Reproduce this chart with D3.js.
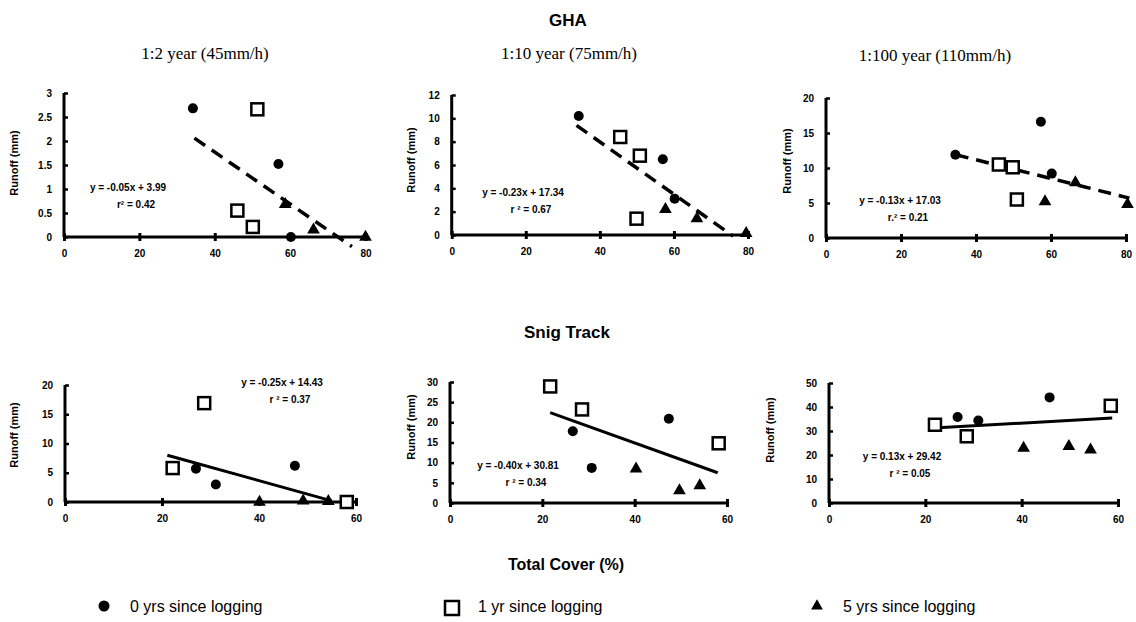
<!DOCTYPE html>
<html>
<head>
<meta charset="utf-8">
<script src="https://cdn.jsdelivr.net/npm/d3@7"></script>
<style>
  body { margin: 0; background: #fff; }
  svg { display: block; }
  .tick text { font-family: "Liberation Sans", Arial, sans-serif; font-weight: bold; font-size: 10px; }
</style>
</head>
<body>
<div id="chart"></div>
<script>
// Set up SVG
var w = 1136;
var h = 622;

var svg = d3.select('#chart')
            .append('svg')
            .attr('width', w)
            .attr('height', h);

// ---- data ----
// x = total cover (%), y = runoff (mm)
var xTicksGha = [0, 20, 40, 60, 80];
var xTicksSnig = [0, 20, 40, 60];

// GHA 1:2 year
var gha2Circles = [[34.2, 2.68], [56.9, 1.52], [60.2, 0]];
var gha2Squares = [[51.3, 2.66], [46.0, 0.55], [50.1, 0.21]];
var gha2Triangles = [[58.7, 0.68], [66.2, 0.15], [80.0, 0]];
var gha2Trend = [[34.6, 2.06], [76.4, -0.2]];
var gha2Eq = ['y = -0.05x + 3.99', 'r² = 0.42'];
var gha2YTicks = [0, 0.5, 1, 1.5, 2, 2.5, 3];

// GHA 1:10 year
var gha10Circles = [[34.3, 10.2], [57.0, 6.5], [60.2, 3.1]];
var gha10Squares = [[45.5, 8.4], [50.8, 6.8], [49.9, 1.4]];
var gha10Triangles = [[57.7, 2.2], [66.2, 1.4], [79.5, 0.15]];
var gha10Trend = [[33.7, 9.4], [76.0, -0.1]];
var gha10Eq = ['y = -0.23x + 17.34', 'r ² = 0.67'];
var gha10YTicks = [0, 2, 4, 6, 8, 10, 12];

// GHA 1:100 year
var gha100Circles = [[34.5, 11.9], [57.3, 16.6], [60.2, 9.2]];
var gha100Squares = [[46.1, 10.5], [49.8, 10.1], [50.9, 5.5]];
var gha100Triangles = [[58.4, 5.2], [66.5, 7.9], [80.4, 4.8]];
var gha100Trend = [[34.6, 11.9], [80.9, 5.7]];
var gha100Eq = ['y = -0.13x + 17.03', 'r.² = 0.21'];
var gha100YTicks = [0, 5, 10, 15, 20];

// Snig Track 1:2 year
var snig2Circles = [[27.0, 5.7], [31.1, 3.0], [47.4, 6.2]];
var snig2Squares = [[22.2, 5.8], [28.7, 16.9], [58.1, 0]];
var snig2Triangles = [[40.1, 0], [49.1, 0.2], [54.3, 0.1]];
var snig2Trend = [[21.1, 8.0], [55.0, 0.2]];
var snig2Eq = ['y = -0.25x + 14.43', 'r ² = 0.37'];
var snig2YTicks = [0, 5, 10, 15, 20];

// Snig Track 1:10 year
var snig10Circles = [[26.6, 17.8], [30.7, 8.7], [47.4, 20.9]];
var snig10Squares = [[21.7, 28.9], [28.6, 23.2], [58.2, 14.8]];
var snig10Triangles = [[40.3, 8.5], [49.7, 3.1], [54.1, 4.3]];
var snig10Trend = [[21.7, 22.4], [58.0, 7.5]];
var snig10Eq = ['y = -0.40x + 30.81', 'r ² = 0.34'];
var snig10YTicks = [0, 5, 10, 15, 20, 25, 30];

// Snig Track 1:100 year
var snig100Circles = [[26.7, 35.8], [31.0, 34.4], [45.8, 44.0]];
var snig100Squares = [[22.0, 32.6], [28.6, 27.8], [58.5, 40.5]];
var snig100Triangles = [[40.4, 22.9], [49.8, 23.6], [54.3, 22.2]];
var snig100Trend = [[21.7, 31.2], [58.8, 35.4]];
var snig100Eq = ['y = 0.13x + 29.42', 'r ² = 0.05'];
var snig100YTicks = [0, 10, 20, 30, 40, 50];

var legendLabels = ['0 yrs since logging', '1 yr since logging', '5 yrs since logging'];

// ---- layout for each panel ----
var panels = [
  {c: gha2Circles, s: gha2Squares, t: gha2Triangles, trend: gha2Trend, dash: true, eq: gha2Eq,
   yT: gha2YTicks, xT: xTicksGha, xr: [64, 365.5], yr: [237, 93], eqX: 128, eqY: 191, labX: 15, labY: 163},
  {c: gha10Circles, s: gha10Squares, t: gha10Triangles, trend: gha10Trend, dash: true, eq: gha10Eq,
   yT: gha10YTicks, xT: xTicksGha, xr: [451.7, 748], yr: [235, 95], eqX: 523, eqY: 196, labX: 412, labY: 160},
  {c: gha100Circles, s: gha100Squares, t: gha100Triangles, trend: gha100Trend, dash: true, eq: gha100Eq,
   yT: gha100YTicks, xT: xTicksGha, xr: [826, 1126], yr: [238, 98], eqX: 900, eqY: 204, labX: 788, labY: 161},
  {c: snig2Circles, s: snig2Squares, t: snig2Triangles, trend: snig2Trend, dash: false, eq: snig2Eq,
   yT: snig2YTicks, xT: xTicksSnig, xr: [65, 356], yr: [502, 385], eqX: 282, eqY: 386, labX: 15, labY: 435},
  {c: snig10Circles, s: snig10Squares, t: snig10Triangles, trend: snig10Trend, dash: false, eq: snig10Eq,
   yT: snig10YTicks, xT: xTicksSnig, xr: [450, 727], yr: [503, 382], eqX: 518, eqY: 469, labX: 412, labY: 427},
  {c: snig100Circles, s: snig100Squares, t: snig100Triangles, trend: snig100Trend, dash: false, eq: snig100Eq,
   yT: snig100YTicks, xT: xTicksSnig, xr: [829, 1118], yr: [503, 383], eqX: 902, eqY: 460, labX: 771, labY: 430}
];

var boldSans = '"Liberation Sans", Arial, sans-serif';
var serif = '"Liberation Serif", "Times New Roman", serif';

panels.forEach(function (p) {
  var x = d3.scaleLinear().domain([0, d3.max(p.xT)]).range(p.xr);
  var y = d3.scaleLinear().domain([0, d3.max(p.yT)]).range(p.yr);
  var g = svg.append('g');

  // x axis
  var gx = g.append('g')
    .attr('transform', 'translate(0,' + y(0) + ')')
    .call(d3.axisBottom(x).tickValues(p.xT).tickFormat(function (d) { return d; }).tickSize(4).tickPadding(9));
  gx.selectAll('.tick line').attr('y1', -4).attr('stroke-width', 3);
  gx.select('.domain').attr('stroke-width', 3).attr('d', 'M' + x(0) + ',0H' + x(d3.max(p.xT)));

  // y axis
  var gy = g.append('g')
    .attr('transform', 'translate(' + x(0) + ',0)')
    .call(d3.axisLeft(y).tickValues(p.yT).tickFormat(function (d) { return d; }).tickSize(4).tickPadding(8));
  gy.selectAll('.tick line').attr('x2', 4).attr('stroke-width', 2.5);
  gy.select('.domain').attr('stroke-width', 3).attr('d', 'M0,' + y(0) + 'V' + y(d3.max(p.yT)));

  // y label
  g.append('text')
    .attr('transform', 'translate(' + p.labX + ',' + p.labY + ') rotate(-90)')
    .attr('text-anchor', 'middle')
    .attr('dominant-baseline', 'middle')
    .attr('font-family', boldSans).attr('font-weight', 'bold').attr('font-size', 11)
    .text('Runoff (mm)');

  // trend line
  g.append('line')
    .attr('x1', x(p.trend[0][0])).attr('y1', y(p.trend[0][1]))
    .attr('x2', x(p.trend[1][0])).attr('y2', y(p.trend[1][1]))
    .attr('stroke', '#000')
    .attr('stroke-width', p.dash ? 3.5 : 3)
    .attr('stroke-dasharray', p.dash ? '13,8' : null);

  // equation
  g.selectAll('.eq')
    .data(p.eq)
    .enter().append('text')
    .attr('x', function (d, i) { return p.eqX + (i ? 8 : 0); })
    .attr('y', function (d, i) { return p.eqY + i * 17; })
    .attr('text-anchor', 'middle')
    .attr('font-family', boldSans).attr('font-weight', 'bold').attr('font-size', 10)
    .text(function (d) { return d; });

  // markers
  g.selectAll('.c').data(p.c).enter().append('circle')
    .attr('cx', function (d) { return x(d[0]); })
    .attr('cy', function (d) { return y(d[1]); })
    .attr('r', 5).attr('fill', '#000');

  g.selectAll('.s').data(p.s).enter().append('rect')
    .attr('x', function (d) { return x(d[0]) - 6; })
    .attr('y', function (d) { return y(d[1]) - 6; })
    .attr('width', 12).attr('height', 12)
    .attr('fill', '#fff').attr('stroke', '#000').attr('stroke-width', 2.5);

  g.selectAll('.t').data(p.t).enter().append('path')
    .attr('d', d3.symbol().type(d3.symbolTriangle).size(70))
    .attr('transform', function (d) { return 'translate(' + x(d[0]) + ',' + y(d[1]) + ')'; })
    .attr('fill', '#000');
});

// titles
svg.append('text').attr('x', 568).attr('y', 26).attr('text-anchor', 'middle')
  .attr('font-family', boldSans).attr('font-weight', 'bold').attr('font-size', 17).text('GHA');

var subTitles = ['1:2 year (45mm/h)', '1:10 year (75mm/h)', '1:100 year (110mm/h)'];
var subX = [205, 569, 935];
svg.selectAll('.sub').data(subTitles).enter().append('text')
  .attr('x', function (d, i) { return subX[i]; })
  .attr('y', function (d, i) { return i == 2 ? 61 : 59; })
  .attr('text-anchor', 'middle')
  .attr('font-family', serif).attr('font-size', 17)
  .text(function (d) { return d; });

svg.append('text').attr('x', 567).attr('y', 338).attr('text-anchor', 'middle')
  .attr('font-family', boldSans).attr('font-weight', 'bold').attr('font-size', 17).text('Snig Track');

svg.append('text').attr('x', 566).attr('y', 570).attr('text-anchor', 'middle')
  .attr('font-family', boldSans).attr('font-weight', 'bold').attr('font-size', 16).text('Total Cover (%)');

// legend
var legX = [104, 452, 817];
var leg = svg.selectAll('.leg').data(legendLabels).enter().append('g')
  .attr('transform', function (d, i) { return 'translate(' + legX[i] + ',606)'; });
leg.append('text')
  .attr('x', 26).attr('y', 0).attr('dy', '0.35em')
  .attr('font-family', '"Liberation Sans", Arial, sans-serif').attr('font-size', 16)
  .text(function (d) { return d; });
leg.filter(function (d, i) { return i == 0; }).append('circle').attr('r', 5.5).attr('fill', '#000');
leg.filter(function (d, i) { return i == 1; }).append('rect')
  .attr('x', -7).attr('y', -5).attr('width', 14).attr('height', 14)
  .attr('fill', '#fff').attr('stroke', '#000').attr('stroke-width', 2.5);
leg.filter(function (d, i) { return i == 2; }).append('path')
  .attr('d', d3.symbol().type(d3.symbolTriangle).size(60)).attr('fill', '#000');
</script>
</body>
</html>
